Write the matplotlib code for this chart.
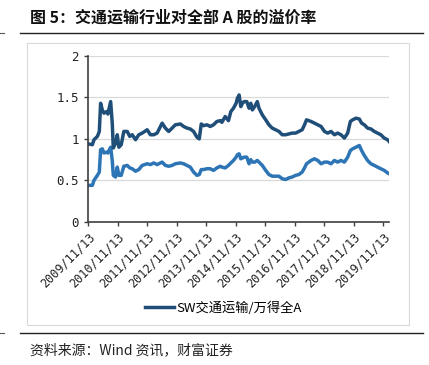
import numpy as np
import pandas as pd
import matplotlib.pyplot as plt
from matplotlib.lines import Line2D
from matplotlib.patches import Rectangle

plt.rcParams['font.family'] = ['Noto Sans CJK SC', 'DejaVu Sans']

# dates
dates = ['2009-11-13', '2010-01-06', '2010-01-26', '2010-03-09', '2010-04-02', '2010-04-18',
         '2010-05-09', '2010-05-29', '2010-07-01', '2010-07-17', '2010-08-20', '2010-09-09',
         '2010-09-22', '2010-10-20', '2010-11-10', '2010-11-30', '2010-12-29', '2011-01-30',
         '2011-03-13', '2011-04-14', '2011-05-14', '2011-06-24', '2011-08-03', '2011-09-14',
         '2011-11-15', '2011-12-25', '2012-02-04', '2012-03-17', '2012-04-27', '2012-05-18',
         '2012-06-27', '2012-08-07', '2012-09-18', '2012-10-28', '2012-12-29', '2013-02-08',
         '2013-03-21', '2013-05-01', '2013-06-11', '2013-07-23', '2013-08-20', '2013-09-14',
         '2013-10-12', '2013-11-23', '2014-01-03', '2014-02-12', '2014-03-26', '2014-05-06',
         '2014-05-27', '2014-07-07', '2014-08-16', '2014-09-15', '2014-10-17', '2014-11-19',
         '2014-12-05', '2014-12-26', '2015-01-16', '2015-02-05', '2015-02-26', '2015-03-31',
         '2015-04-28', '2015-05-19', '2015-06-08', '2015-07-07', '2015-08-08', '2015-08-29',
         '2015-10-09', '2015-11-20', '2015-12-30', '2016-02-09', '2016-03-22', '2016-05-02',
         '2016-06-11', '2016-07-23', '2016-09-02', '2016-10-12', '2016-11-23', '2017-01-03',
         '2017-02-13', '2017-03-14', '2017-04-08', '2017-05-06', '2017-06-03', '2017-07-15',
         '2017-08-25', '2017-10-05', '2017-11-16', '2017-12-26', '2018-02-05', '2018-03-19',
         '2018-04-28', '2018-06-08', '2018-07-20', '2018-08-30', '2018-10-02', '2018-10-30',
         '2018-12-10', '2019-01-21', '2019-02-18', '2019-03-24', '2019-05-03', '2019-06-13',
         '2019-07-25', '2019-09-03', '2019-10-14', '2019-11-25', '2020-01-05', '2020-01-23']

# SW交通运输/万得全A
premium = [0.94, 0.93, 0.99, 1.03, 1.09, 1.43, 1.35, 1.31, 1.33, 1.30, 1.45, 1.19,
           0.89, 0.95, 1.05, 0.90, 0.93, 1.09, 1.09, 1.03, 1.05, 0.99, 1.05, 1.07,
           1.11, 1.05, 1.05, 1.07, 1.15, 1.19, 1.13, 1.09, 1.13, 1.17, 1.18, 1.15,
           1.13, 1.12, 1.09, 1.02, 1.00, 1.18, 1.16, 1.17, 1.15, 1.17, 1.21, 1.22,
           1.20, 1.27, 1.22, 1.33, 1.37, 1.43, 1.49, 1.53, 1.39, 1.43, 1.45, 1.45,
           1.37, 1.43, 1.35, 1.39, 1.45, 1.37, 1.29, 1.23, 1.17, 1.13, 1.11, 1.09,
           1.05, 1.05, 1.06, 1.07, 1.07, 1.09, 1.11, 1.17, 1.23, 1.22, 1.21, 1.19,
           1.17, 1.15, 1.09, 1.07, 1.09, 1.05, 1.07, 1.05, 1.01, 1.07, 1.21, 1.23,
           1.25, 1.24, 1.19, 1.17, 1.13, 1.12, 1.09, 1.07, 1.05, 1.01, 0.99, 0.97]

# second (lighter) series
premium2 = [0.44, 0.44, 0.50, 0.56, 0.60, 0.87, 0.88, 0.83, 0.84, 0.83, 0.90, 0.74,
            0.56, 0.54, 0.66, 0.56, 0.56, 0.67, 0.68, 0.65, 0.64, 0.61, 0.63, 0.68,
            0.70, 0.69, 0.71, 0.69, 0.71, 0.72, 0.68, 0.67, 0.68, 0.70, 0.71, 0.70,
            0.68, 0.66, 0.60, 0.56, 0.57, 0.63, 0.63, 0.64, 0.64, 0.62, 0.65, 0.67,
            0.66, 0.65, 0.68, 0.71, 0.74, 0.78, 0.81, 0.82, 0.76, 0.77, 0.78, 0.78,
            0.70, 0.75, 0.72, 0.72, 0.74, 0.72, 0.68, 0.62, 0.57, 0.55, 0.55, 0.55,
            0.52, 0.51, 0.53, 0.54, 0.56, 0.57, 0.60, 0.65, 0.70, 0.72, 0.74, 0.76,
            0.74, 0.70, 0.72, 0.72, 0.70, 0.74, 0.72, 0.74, 0.72, 0.78, 0.86, 0.88,
            0.90, 0.92, 0.86, 0.80, 0.74, 0.70, 0.68, 0.66, 0.64, 0.62, 0.59, 0.58]

tick_dates = ['2009-11-13', '2010-11-13', '2011-11-13', '2012-11-13', '2013-11-13', '2014-11-13',
              '2015-11-13', '2016-11-13', '2017-11-13', '2018-11-13', '2019-11-13']
tick_labels = ['2009/11/13', '2010/11/13', '2011/11/13', '2012/11/13', '2013/11/13', '2014/11/13',
               '2015/11/13', '2016/11/13', '2017/11/13', '2018/11/13', '2019/11/13']

d = pd.to_datetime(dates)
td = pd.to_datetime(tick_dates)

fig = plt.figure(figsize=(4.29, 3.65), dpi=100)

# title, rules, chart box, source note
fig.text(0.07, 0.951, '图 5：交通运输行业对全部 A 股的溢价率', fontsize=11.5, fontweight='bold',
         va='center', ha='left', color='#111111')
for yy in [33, 333]:
    fy = 1 - yy/365
    fig.add_artist(Line2D([0.047, 0.986], [fy, fy], color='#222222', lw=1.0))
    fig.add_artist(Line2D([0.0, 0.01], [fy, fy], color='#555555', lw=0.8))
fig.add_artist(Rectangle((27/429, 1 - 325/365), (409 - 27)/429, (325 - 43)/365,
                         fill=False, ec='#d9d9d9', lw=0.8))
fig.text(0.07, 1 - 350/365, '资料来源：Wind 资讯，财富证券', fontsize=10, style='italic',
         va='center', ha='left', color='#222222')

ax = fig.add_axes([88/429, 1 - 221.8/365, (389 - 88)/429, (221.8 - 56)/365])
ax.plot(d, premium2, color='#2E75B6', lw=2.5, solid_joinstyle='round')
ax.plot(d, premium, color='#1F4E79', lw=2.5, solid_joinstyle='round', label='SW交通运输/万得全A')

ax.set_ylim(0, 2)
ax.set_xlim(d[0], d[-1])
ax.set_yticks(np.arange(0, 2.01, 0.5))
ax.set_yticklabels(['0', '0.5', '1', '1.5', '2'], family='DejaVu Sans Mono', fontsize=9)
ax.set_xticks(td)
ax.set_xticklabels(tick_labels, rotation=45, ha='right', rotation_mode='anchor',
                   family='DejaVu Sans Mono', fontsize=8.5)
ax.grid(axis='y', color='#d9d9d9', lw=0.9)
ax.set_axisbelow(True)
for s in ['top', 'right']:
    ax.spines[s].set_visible(False)
for s in ['left', 'bottom']:
    ax.spines[s].set_color('#404040')
    ax.spines[s].set_linewidth(1.2)
ax.tick_params(colors='#404040', length=3, width=1, labelcolor='#222222')

h, l = ax.get_legend_handles_labels()
fig.legend(h, l, loc='center', bbox_to_anchor=(0.52, 1 - 308/365), frameon=False,
           fontsize=9.5, handlelength=2.2, handletextpad=0.2)

fig.savefig('out.png', dpi=100)
